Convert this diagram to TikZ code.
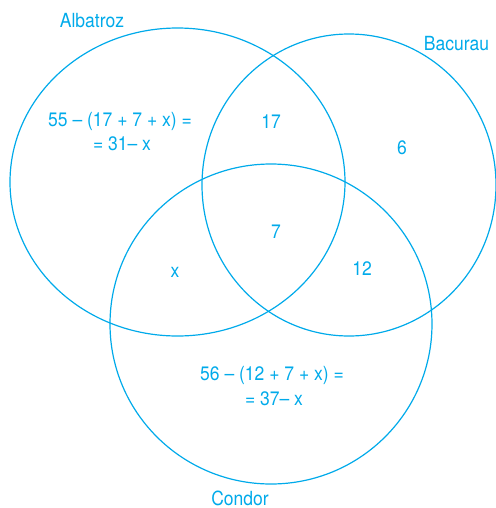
\documentclass[tikz,border=0pt]{standalone}
\usepackage{fontspec}
\setmainfont[FakeStretch=0.9]{TeX Gyre Heros}
\definecolor{venn}{RGB}{0,170,234}
\begin{document}
\begin{tikzpicture}[x=0.75pt,y=-0.75pt,
  set/.style={draw=venn,line width=0.9pt},
  lbl/.style={text=venn,font=\fontsize{14.6pt}{17pt}\selectfont,anchor=base,inner sep=0pt}]
\useasboundingbox (0,0) rectangle (496,508);
\draw[set] (177.5,182) ellipse [x radius=167.5,y radius=154];
\draw[set] (349,185) ellipse [x radius=147,y radius=151];
\draw[set] (271,324) ellipse [x radius=161,y radius=160];
\node[lbl] (a) at (92,27) {Albatroz};
\node[lbl] (b) at (456.5,50) {Bacurau};
\node[lbl] (c) at (240,505.5) {Condor};
\node[lbl] (a1) at (120,126) {55 – (17 + 7 + x) =};
\node[lbl] (a2) at (122,150) {= 31– x};
\node[lbl] (ab) at (271,128) {17};
\node[lbl] (bo) at (402,154) {6};
\node[lbl] (ac) at (175,277) {x};
\node[lbl] (abc) at (276,238) {7};
\node[lbl] (bc) at (362,275) {12};
\node[lbl] (c1) at (272,380) {56 – (12 + 7 + x) =};
\node[lbl] (c2) at (274,405) {= 37– x};
\end{tikzpicture}
\end{document}
